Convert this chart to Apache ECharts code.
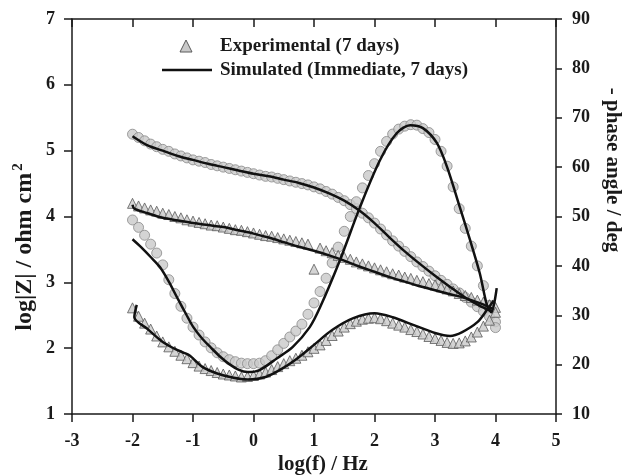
<!DOCTYPE html>
<html><head><meta charset="utf-8">
<script src="https://cdn.jsdelivr.net/npm/echarts@6/dist/echarts.min.js"></script>
<style>html,body{margin:0;padding:0;background:#fff}#c{width:625px;height:475px}</style>
</head><body><div id="c"></div>
<script>
// experimental frequencies, log(f)
var logF = [-2.0,-1.9,-1.8,-1.7,-1.6,-1.5,-1.4,-1.3,-1.2,-1.1,-1.0,-0.9,-0.8,-0.7,-0.6,-0.5,-0.4,-0.3,-0.2,-0.1,
  0.0,0.1,0.2,0.3,0.4,0.5,0.6,0.7,0.8,0.9,1.0,1.1,1.2,1.3,1.4,1.5,1.6,1.7,1.8,1.9,
  2.0,2.1,2.2,2.3,2.4,2.5,2.6,2.7,2.8,2.9,3.0,3.1,3.2,3.3,3.4,3.5,3.6,3.7,3.8,3.9,4.0];
// circles: immediate
var logZImmediate = [5.25,5.20,5.15,5.10,5.06,5.02,4.99,4.95,4.92,4.89,4.86,4.84,4.82,4.79,4.77,4.75,4.73,4.71,4.69,4.67,
  4.65,4.63,4.61,4.60,4.58,4.56,4.54,4.52,4.50,4.48,4.45,4.42,4.38,4.34,4.29,4.24,4.18,4.12,4.05,3.98,
  3.90,3.81,3.72,3.63,3.55,3.47,3.39,3.31,3.24,3.17,3.10,3.03,2.97,2.90,2.84,2.77,2.70,2.63,2.56,2.48,2.40];
var phaseImmediate = [49.3,47.8,46.2,44.4,42.6,40.2,37.2,34.4,31.8,29.4,27.6,26.0,24.6,23.4,22.4,21.6,21.0,20.6,20.3,20.2,
  20.2,20.3,20.8,21.8,23.0,24.3,25.6,26.8,28.2,30.2,32.5,34.8,37.5,40.6,43.8,47.0,50.0,53.0,55.8,58.3,
  60.7,63.2,65.2,66.7,67.7,68.3,68.6,68.5,67.8,67.0,65.6,63.2,60.2,56.0,51.6,47.6,44.0,40.0,36.0,32.0,27.5];
// triangles: 7 days
var logZ7days = [4.20,4.16,4.13,4.10,4.08,4.05,4.03,4.00,3.98,3.95,3.93,3.91,3.89,3.87,3.86,3.84,3.82,3.80,3.79,3.77,
  3.75,3.73,3.71,3.70,3.68,3.66,3.64,3.62,3.60,3.58,3.20,3.52,3.48,3.45,3.41,3.38,3.35,3.31,3.28,3.25,
  3.22,3.19,3.16,3.13,3.11,3.08,3.06,3.03,3.01,2.98,2.96,2.93,2.90,2.87,2.83,2.80,2.77,2.73,2.70,2.66,2.62];
var phase7days = [31.5,29.8,28.4,27.2,25.8,24.6,23.6,22.7,21.9,21.2,20.4,19.7,19.2,18.8,18.4,18.1,17.9,17.7,17.5,17.6,
  17.8,18.1,18.5,19.0,19.6,20.2,20.8,21.3,21.9,22.6,23.3,24.0,24.9,25.9,26.8,27.6,28.3,28.8,29.2,29.4,
  29.5,29.3,28.9,28.4,28.0,27.6,27.1,26.7,26.2,25.7,25.3,24.9,24.5,24.3,24.4,24.8,25.6,26.6,27.8,29.0,30.6];
// simulated curves
var simLogZImmX = [-2.0,-1.75,-1.5,-1.25,-1.0,-0.75,-0.5,-0.25,0,0.25,0.5,0.75,1.0,1.25,1.5,1.75,2.0,2.25,2.5,2.75,3.0,3.25,3.5,3.75,3.95];
var simLogZImm  = [5.22,5.08,5.00,4.92,4.86,4.80,4.75,4.70,4.65,4.61,4.56,4.51,4.44,4.35,4.24,4.09,3.90,3.68,3.47,3.28,3.10,2.93,2.77,2.64,2.56];
var simLogZ7X = [-2.0,-1.97,-1.75,-1.5,-1.25,-1.0,-0.75,-0.5,-0.25,0,0.25,0.5,0.75,1.0,1.25,1.5,1.75,2.0,2.25,2.5,2.75,3.0,3.25,3.5,3.75,3.95];
var simLogZ7  = [4.18,4.12,4.05,3.98,3.94,3.90,3.87,3.84,3.79,3.74,3.68,3.61,3.54,3.48,3.41,3.33,3.24,3.16,3.08,3.01,2.94,2.88,2.82,2.76,2.68,2.60];
var simPhaseImmX = [-2.0,-1.85,-1.7,-1.55,-1.4,-1.25,-1.1,-1.0,-0.85,-0.7,-0.55,-0.4,-0.25,-0.1,0.1,0.39,0.65,0.93,1.1,1.43,1.76,2.09,2.37,2.59,2.8,3.03,3.2,3.41,3.58,3.74,3.86,3.93,4.02];
var simPhaseImm  = [45.4,43.7,41.8,39.8,36.8,33.3,29.9,27.7,25.3,23.4,21.6,20.1,19.0,18.5,18.9,21.3,23.6,27.6,31.6,41.2,51.9,61.4,66.9,68.5,67.9,64.9,60.0,51.9,45.2,38.5,32.0,30.6,35.5];
var simPhase7X = [-1.93,-1.97,-1.75,-1.5,-1.3,-1.15,-1.05,-0.85,-0.6,-0.35,-0.1,0.2,0.5,0.75,1.0,1.3,1.65,2.0,2.3,2.65,3.0,3.25,3.45,3.7,3.86,3.97];
var simPhase7  = [32.1,29.6,27.2,24.6,23.2,22.4,21.8,19.6,18.2,17.4,17.0,17.5,19.4,21.5,24.0,27.0,29.4,30.4,29.6,28.0,26.4,25.8,26.6,28.6,31.1,33.0];

var xRange = [-3, 5];
var legendExp = 'Experimental (7 days)';
var legendSim = 'Simulated (Immediate, 7 days)';

function pairs(xs, ys){ var o=[]; for (var i=0;i<xs.length;i++) o.push([xs[i], ys[i]]); return o; }

var FONT = '"Liberation Serif", "Times New Roman", serif';
var ink = '#1a1a1a';
var circleStyle = {color:'#c9c9c9', borderColor:'#8a8a8a', borderWidth:1};
var triStyle = {color:'#c9c9c9', borderColor:'#5a5a5a', borderWidth:1};

var chart = echarts.init(document.getElementById('c'), null, {renderer:'canvas'});
var labelStyle = {fontFamily:FONT, fontWeight:'bold', fontSize:18, color:ink};
var simLine = {color:'#111', width:2.5};
chart.setOption({
  animation:false,
  backgroundColor:'#fff',
  grid:{left:72, right:69, top:19, bottom:61},
  xAxis:[
    {type:'value', position:'bottom', min:xRange[0], max:xRange[1], interval:1,
     axisLine:{onZero:false, lineStyle:{color:ink, width:1.5}},
     axisTick:{inside:false, length:8, lineStyle:{color:ink, width:1.5}},
     axisLabel:Object.assign({margin:18}, labelStyle),
     splitLine:{show:false}},
    {type:'value', position:'top', min:xRange[0], max:xRange[1], interval:1,
     axisLine:{onZero:false, lineStyle:{color:ink, width:1.5}},
     axisTick:{inside:true, length:8, lineStyle:{color:ink, width:1.5}},
     axisLabel:{show:false}, splitLine:{show:false}}
  ],
  yAxis:[
    {type:'value', position:'left', min:1, max:7, interval:1,
     axisLine:{show:true, onZero:false, lineStyle:{color:ink, width:1.5}},
     axisTick:{show:true, inside:false, length:8, lineStyle:{color:ink, width:1.5}},
     axisLabel:Object.assign({margin:17}, labelStyle),
     splitLine:{show:false}},
    {type:'value', position:'right', min:10, max:90, interval:10,
     axisLine:{show:true, onZero:false, lineStyle:{color:ink, width:1.5}},
     axisTick:{show:true, inside:false, length:6, lineStyle:{color:ink, width:1.5}},
     axisLabel:Object.assign({margin:16}, labelStyle),
     splitLine:{show:false}}
  ],
  graphic:[
    // legend
    {type:'polygon', shape:{points:[[180,52],[192,52],[186,40]]}, style:{fill:'#c9c9c9', stroke:'#5a5a5a', lineWidth:1}},
    {type:'text', x:220, y:46, style:{text:legendExp, font:'bold 19px '+FONT, fill:ink, verticalAlign:'middle'}},
    {type:'line', shape:{x1:162, y1:70, x2:212, y2:70}, style:{stroke:'#111', lineWidth:2.5}},
    {type:'text', x:220, y:70, style:{text:legendSim, font:'bold 19px '+FONT, fill:ink, verticalAlign:'middle'}},
    // axis titles
    {type:'text', x:323, y:465, style:{text:'log(f) / Hz', font:'bold 21px '+FONT, fill:ink, align:'center', verticalAlign:'middle'}},
    {type:'text', x:25, y:247, rotation:Math.PI/2, style:{text:'{a|log|Z| / ohm cm}{b|2}', align:'center', verticalAlign:'middle',
      rich:{a:{font:'bold 24px '+FONT, fill:ink}, b:{font:'bold 15px '+FONT, fill:ink, padding:[0,0,13,2]}}}},
    {type:'text', x:612, y:170, rotation:-Math.PI/2, style:{text:'- phase angle / deg', font:'bold 21px '+FONT, fill:ink, align:'center', verticalAlign:'middle'}}
  ],
  series:[
    {name:'Experimental (Immediate)', type:'scatter', xAxisIndex:0, yAxisIndex:0, symbol:'circle', symbolSize:10, itemStyle:circleStyle, data:pairs(logF, logZImmediate), z:2},
    {name:'Experimental (Immediate)', type:'scatter', xAxisIndex:0, yAxisIndex:1, symbol:'circle', symbolSize:10, itemStyle:circleStyle, data:pairs(logF, phaseImmediate), z:2},
    {name:legendExp, type:'scatter', xAxisIndex:0, yAxisIndex:0, symbol:'triangle', symbolSize:10, itemStyle:triStyle, data:pairs(logF, logZ7days), z:3},
    {name:legendExp, type:'scatter', xAxisIndex:0, yAxisIndex:1, symbol:'triangle', symbolSize:10, itemStyle:triStyle, data:pairs(logF, phase7days), z:3},
    {name:legendSim, type:'line', xAxisIndex:0, yAxisIndex:0, showSymbol:false, symbol:'none', smooth:0.3, lineStyle:simLine, data:pairs(simLogZImmX, simLogZImm), z:5},
    {name:legendSim, type:'line', xAxisIndex:0, yAxisIndex:0, showSymbol:false, symbol:'none', smooth:0.3, lineStyle:simLine, data:pairs(simLogZ7X, simLogZ7), z:5},
    {name:legendSim, type:'line', xAxisIndex:0, yAxisIndex:1, showSymbol:false, symbol:'none', smooth:0.3, lineStyle:simLine, data:pairs(simPhaseImmX, simPhaseImm), z:5},
    {name:legendSim, type:'line', xAxisIndex:0, yAxisIndex:1, showSymbol:false, symbol:'none', smooth:0.3, lineStyle:simLine, data:pairs(simPhase7X, simPhase7), z:5}
  ]
});
</script></body></html>
